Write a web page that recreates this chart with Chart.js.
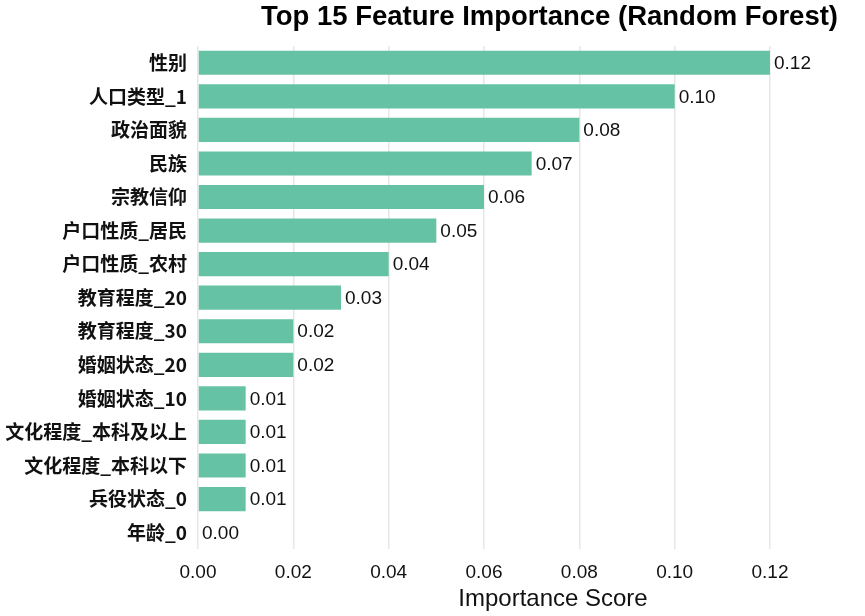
<!DOCTYPE html>
<html>
<head>
<meta charset="utf-8">
<script src="https://cdn.jsdelivr.net/npm/chart.js@4"></script>
<style>
html,body{margin:0;padding:0;background:#fff;}
#wrap{width:865px;height:616px;}
</style>
</head>
<body>
<div id="wrap"><canvas id="c"></canvas></div>
<script>
const features = ["性别","人口类型_1","政治面貌","民族","宗教信仰","户口性质_居民","户口性质_农村","教育程度_20","教育程度_30","婚姻状态_20","婚姻状态_10","文化程度_本科及以上","文化程度_本科以下","兵役状态_0","年龄_0"];
const importance = [0.12,0.10,0.08,0.07,0.06,0.05,0.04,0.03,0.02,0.02,0.01,0.01,0.01,0.01,0.00];
const xTicks = [0,0.02,0.04,0.06,0.08,0.10,0.12];
const xTitle = 'Importance Score';

const valueLabels = {
  id:'valueLabels',
  afterDatasetsDraw(chart){
    const ctx = chart.ctx;
    const meta = chart.getDatasetMeta(0);
    ctx.save();
    ctx.font = '19px "Liberation Sans", Arial, sans-serif';
    ctx.fillStyle = '#111';
    ctx.textAlign = 'left';
    ctx.textBaseline = 'middle';
    meta.data.forEach((bar,i)=>{
      ctx.fillText(importance[i].toFixed(2), bar.x + 4, bar.y + 1);
    });
    // x axis title, shifted right like the reference
    const a = chart.chartArea;
    ctx.font = '24px "Liberation Sans", Arial, sans-serif';
    ctx.textAlign = 'center';
    ctx.fillText(xTitle, (a.left + a.right) / 2 + 35, chart.scales.x.bottom - 14);
    ctx.restore();
  }
};

new Chart(document.getElementById('c'), {
  type:'bar',
  data:{
    labels: features,
    datasets:[{
      data: importance,
      backgroundColor:'#66c2a5',
      borderWidth:0,
      categoryPercentage:1.0,
      barPercentage:0.72
    }]
  },
  options:{
    indexAxis:'y',
    responsive:true,
    maintainAspectRatio:false,
    animation:false,
    layout:{padding:{left:0,right:27,top:1,bottom:3}},
    plugins:{
      legend:{display:false},
      tooltip:{enabled:false},
      title:{
        display:true,
        text:'Top 15 Feature Importance (Random Forest)',
        align:'end',
        color:'#000',
        font:{family:'"Liberation Sans", Arial, sans-serif', size:27.5, weight:'bold'},
        padding:{top:0,bottom:12}
      }
    },
    scales:{
      x:{
        type:'linear',
        min:0,
        max:0.13427,
        grid:{color:'#e6e6e6', lineWidth:1.5, drawTicks:false},
        border:{display:false},
        afterBuildTicks(scale){ scale.ticks = xTicks.map(v=>({value:v})); },
        ticks:{
          includeBounds:false,
          padding:12,
          color:'#111',
          font:{family:'"Liberation Sans", Arial, sans-serif', size:19},
          callback:(v)=>Number(v).toFixed(2)
        },
        title:{
          display:true,
          text:xTitle,
          color:'rgba(0,0,0,0)',
          font:{family:'"Liberation Sans", Arial, sans-serif', size:24},
          padding:{top:-12,bottom:0}
        }
      },
      y:{
        afterFit(scale){ scale.width = 198; },
        grid:{display:false, drawTicks:false},
        border:{display:false},
        ticks:{
          padding:11,
          color:'#111',
          font:{family:'"Noto Sans CJK SC", "Liberation Sans", sans-serif', size:19, weight:'bold'}
        }
      }
    }
  },
  plugins:[valueLabels]
});
</script>
</body>
</html>
